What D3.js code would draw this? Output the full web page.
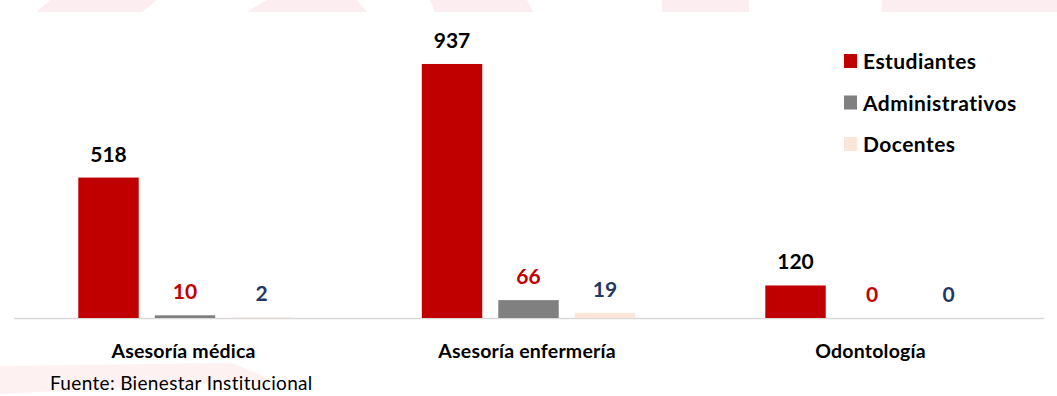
<!DOCTYPE html>
<html>
<head>
<meta charset="utf-8">
<script src="https://cdn.jsdelivr.net/npm/d3@7"></script>
<style>
  html, body { margin: 0; padding: 0; background: #ffffff; }
  svg { display: block; font-family: Lato, "Open Sans", sans-serif; }
</style>
</head>
<body>
<svg id="chart" width="1057" height="396"></svg>
<script>
// Atenciones por servicio y tipo de usuario
const categories = ["Asesoría médica", "Asesoría enfermería", "Odontología"];
const series = ["Estudiantes", "Administrativos", "Docentes"];
const estudiantes = [518, 937, 120];
const administrativos = [10, 66, 0];
const docentes = [2, 19, 0];
const source = "Fuente: Bienestar Institucional";

const values = [estudiantes, administrativos, docentes];
const barColors = ["#C00000", "#808080", "#FBE5D6"];
const labelColors = ["#000000", "#C00000", "#1F3864"];

const svg = d3.select("#chart");
const baseline = 318;

// Decorative pale band shapes
const deco = svg.append("g").attr("fill", "#fcedf0");
[
  [[37,12],[50,0],[157,0],[142,12]],
  [[247,12],[267,0],[357,0],[367,12]],
  [[435,12],[430,0],[527,0],[533,12]],
  [[662,12],[662,0],[749,0],[749,12]],
  [[882,12],[882,0],[1057,0],[1057,12]]
].forEach(p => deco.append("polygon").attr("points", p.join(" ")));
svg.append("polygon")
  .attr("points", [[0,366],[232,363],[272,380],[0,394]].join(" "))
  .attr("fill", "#fdf1f2");

const x = d3.scaleBand().domain(categories).range([13.25, 1043.75]).padding(0);
const xs = d3.scaleBand().domain(series).range([-106.7, 106.7]).paddingInner(0.21).paddingOuter(0);
const y = d3.scaleLinear().domain([0, 1000]).range([baseline, baseline - 271.1]);

// Category axis
const axis = svg.append("g")
  .attr("transform", `translate(0,${baseline})`)
  .call(d3.axisBottom(x).tickSize(0).tickPadding(0));
axis.select(".domain").attr("stroke", "#d9d9d9").attr("stroke-width", 1.5);
axis.selectAll(".tick text")
  .attr("x", -1.5)
  .attr("y", 40)
  .attr("dy", 0)
  .attr("fill", "#000")
  .attr("font-size", 19.5)
  .attr("letter-spacing", 0.2)
  .attr("font-weight", "bold")
  .attr("font-family", "Lato, sans-serif");

// Bars and value labels
series.forEach((s, si) => {
  const g = svg.append("g");
  categories.forEach((c, ci) => {
    const v = values[si][ci];
    const cx = x(c) + x.bandwidth() / 2 + xs(s);
    g.append("rect")
      .attr("x", cx)
      .attr("y", y(v))
      .attr("width", xs.bandwidth())
      .attr("height", baseline - y(v))
      .attr("fill", barColors[si]);
    g.append("text")
      .attr("x", cx + xs.bandwidth() / 2)
      .attr("y", y(v) - 16)
      .attr("text-anchor", "middle")
      .attr("font-size", 21)
      .attr("font-weight", "bold")
      .attr("fill", labelColors[si])
      .text(v);
  });
});

// Legend
const legend = svg.append("g").attr("transform", "translate(844,0)");
series.forEach((s, i) => {
  const by = 69 + i * 41.5;
  legend.append("rect")
    .attr("x", 0).attr("y", by - 15)
    .attr("width", 13).attr("height", 14)
    .attr("fill", barColors[i]);
  legend.append("text")
    .attr("x", 19).attr("y", by)
    .attr("font-size", 21)
    .attr("letter-spacing", 0.45)
    .attr("font-weight", "bold")
    .attr("fill", "#000")
    .text(s);
});

// Source note
svg.append("text")
  .attr("x", 50).attr("y", 390)
  .attr("font-size", 19)
  .attr("letter-spacing", 0.33)
  .attr("fill", "#000")
  .text(source);
</script>
</body>
</html>
